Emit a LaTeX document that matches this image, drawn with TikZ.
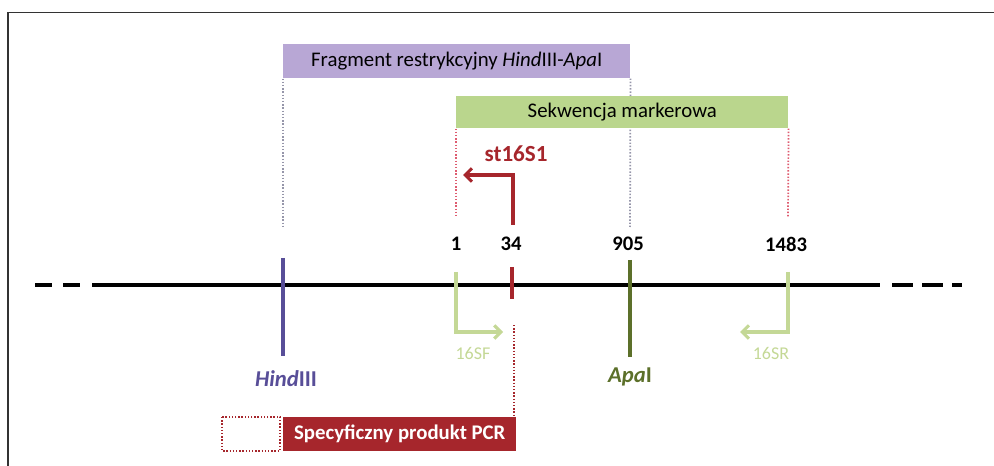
\documentclass[tikz,border=0pt]{standalone}
\usepackage{fontspec}
\setmainfont{Carlito}
\usetikzlibrary{positioning}
\usetikzlibrary{arrows.meta}

\definecolor{fragviolet}{RGB}{184,167,213}
\definecolor{markgreen}{RGB}{186,214,141}
\definecolor{hindblue}{RGB}{88,78,152}
\definecolor{apagreen}{RGB}{92,112,42}
\definecolor{primgreen}{RGB}{196,216,150}
\definecolor{pcrred}{RGB}{166,38,44}
\definecolor{guidered}{RGB}{222,92,112}
\definecolor{guidegrey}{RGB}{150,150,170}

\begin{document}
\begin{tikzpicture}[x=0.75pt,y=-0.75pt,
    band/.style={anchor=north west,inner sep=0pt,minimum height=25.5pt,font=\fontsize{15.6}{17}\selectfont},
    site/.style={line width=2.3pt},
    primer/.style={line width=2.3pt,-{Straight Barb[length=5pt,width=10pt,line width=2.3pt]}},
    guide/.style={line width=1.3pt,dash pattern=on 1.1pt off 1.3pt},
    posnum/.style={font=\fontsize{15.5}{17}\selectfont\bfseries},
    enzyme/.style={font=\fontsize{17}{19}\selectfont\bfseries}]
  \useasboundingbox (0,0) rectangle (994,466);
  % frame
  \draw[black!80,line width=0.9pt] (994,12.5) -- (8,12.5) -- (8,466);

  % boxes
  \node[band,fill=fragviolet,minimum width=260.25pt] (frag) at (283,44)
    {Fragment restrykcyjny \textit{Hind}III-\textit{Apa}I};
  \draw[guide,guidegrey] (frag.south west) -- (283,227);
  \draw[guide,guidegrey] (frag.south east) -- (630,227);
  \node[band,fill=markgreen,minimum width=249pt,minimum height=24pt] (marker) at (456,96)
    {Sekwencja markerowa};
  \draw[guide,guidered] (marker.south west) -- (456,215);
  \draw[guide,guidered] (marker.south east) -- (788,218);

  % dna line
  \draw[line width=3pt] (92,285) -- (880,285);
  \foreach \a/\b in {35/52,63/80,892/913,922/943,952/962}
    \draw[line width=3pt] (\a,285) -- (\b,285);

  % restriction sites
  \draw[site,hindblue] (283,258) -- (283,356);
  \draw[site,apagreen] (630,260) -- (630,357);
  \draw[site,pcrred] (512,267) -- (512,299);
  \node[enzyme,hindblue] (hindlab) at (286,379) {\textit{Hind}III};
  \node[enzyme,apagreen] (apalab) at (630,377) {\textit{Apa}I};

  % positions
  \node[posnum] (n1) at (456,244) {1};
  \node[posnum] (n34) at (511,244) {34};
  \node[posnum] (n905) at (628,244) {905};
  \node[posnum] (n1483) at (786,244) {1483};

  % primers
  \draw[primer,primgreen] (456,272) -- (456,332) -- (503,332);
  \draw[primer,primgreen] (788,272) -- (788,332) -- (740,332);
  \node[primgreen,font=\fontsize{13.5}{15}\selectfont] (sf) at (473,353) {16SF};
  \node[primgreen,font=\fontsize{13.5}{15}\selectfont] (sr) at (771,353) {16SR};
  \draw[primer,pcrred] (513,225) -- (513,175) -- (463,175);
  \node[pcrred,font=\fontsize{17.3}{19}\selectfont\bfseries] (st) at (516,154) {st16S1};

  % pcr product
  \node[band,fill=pcrred,text=white,minimum width=174.75pt,font=\fontsize{15.6}{17}\selectfont\bfseries] (pcr) at (283,417)
    {Specyficzny produkt PCR};
  \coordinate (drop) at (514,325);
  \draw[guide,pcrred] (drop) -- (drop |- pcr.north);
  \draw[guide,pcrred,line width=1.6pt] (222,417) rectangle (280,451);
\end{tikzpicture}
\end{document}
